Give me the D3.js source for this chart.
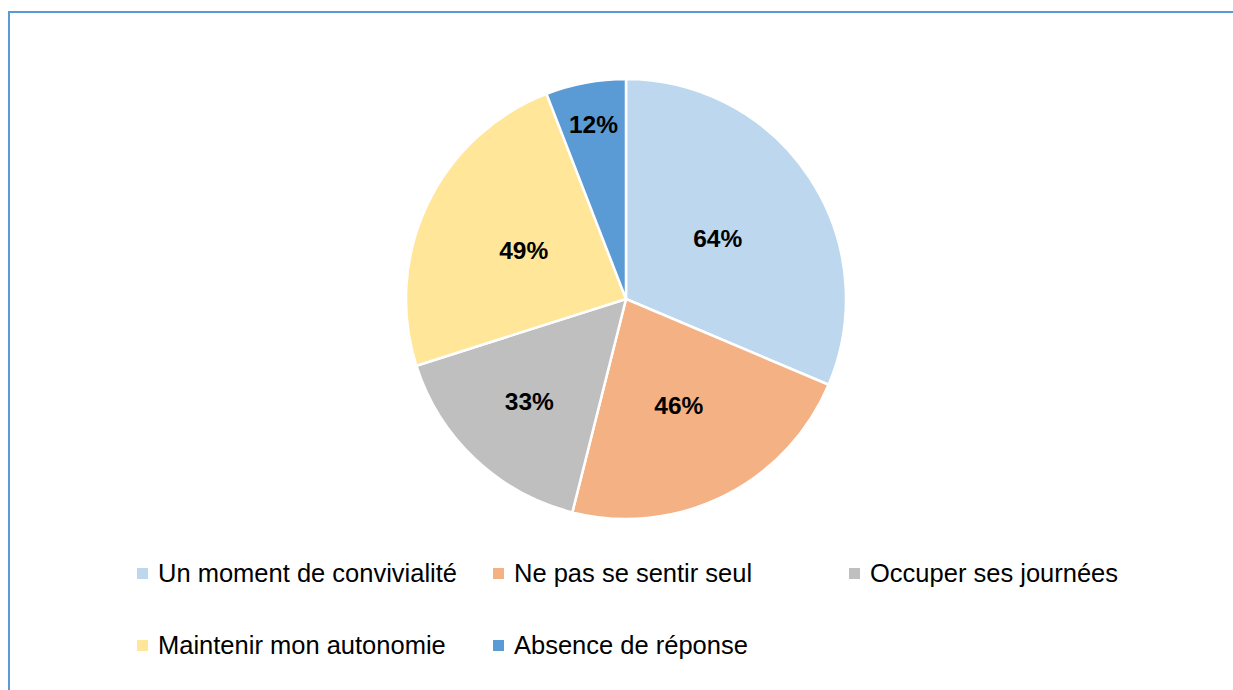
<!DOCTYPE html>
<head>
  <meta charset="utf-8">
  <script src="https://d3js.org/d3.v7.min.js"></script>
  <style>
    body{ margin: 0; background: #ffffff; }
    text{ font-family: "Liberation Sans", Arial, sans-serif; }
    text.pct{ font-size: 24.5px; font-weight: 700; fill: #000000; }
    text.legendLabel{ font-size: 25.5px; fill: #000000; }
  </style>
</head>
<body>
  <script>
    // data
    const categories = ["Un moment de convivialité", "Ne pas se sentir seul", "Occuper ses journées",
                        "Maintenir mon autonomie", "Absence de réponse"];
    const values = [64, 46, 33, 49, 12];
    const colours = ["#bdd7ee", "#f4b183", "#bfbfbf", "#ffe699", "#5b9bd5"];

    const width = 1233, height = 690;
    const cx = 626, cy = 299, radius = 220;

    const svg = d3.select("body").append("svg")
      .attr("width", width)
      .attr("height", height);

    // chart frame (right and bottom edges run off the page)
    svg.append("rect")
      .attr("x", 9).attr("y", 12)
      .attr("width", width + 20).attr("height", height + 20)
      .attr("fill", "none")
      .attr("stroke", "#5b9bd5")
      .attr("stroke-width", 2);

    const rows = categories.map((c, i) => ({name: c, value: values[i], colour: colours[i]}));

    const pie = d3.pie().sort(null).value(d => d.value);
    const arc = d3.arc().innerRadius(0).outerRadius(radius);
    const arcs = pie(rows);

    const g = svg.append("g").attr("transform", `translate(${cx},${cy})`);

    g.selectAll("path.slice")
      .data(arcs)
      .enter()
      .append("path")
      .attr("class", "slice")
      .attr("d", arc)
      .attr("fill", d => d.data.colour)
      .attr("stroke", "#ffffff")
      .attr("stroke-width", 2.5)
      .attr("stroke-linejoin", "round");

    //labels pushed outward in narrow slices so they fit
    const labelPos = d => {
      const span = d.endAngle - d.startAngle;
      const rho = radius * (0.5 + 0.8 * Math.max(0, 0.5 - span / Math.PI));
      const a = (d.startAngle + d.endAngle) / 2;
      return [rho * Math.sin(a), -rho * Math.cos(a)];
    };

    g.selectAll("text.pct")
      .data(arcs)
      .enter()
      .append("text")
      .attr("class", "pct")
      .attr("x", d => labelPos(d)[0])
      .attr("y", d => labelPos(d)[1])
      .attr("dy", "0.35em")
      .style("text-anchor", "middle")
      .text(d => d.data.value + "%");

    // legend: 3 columns, 2 rows
    const legendX = d3.scalePoint().domain([0, 1, 2]).range([137, 849]);
    const legendY = d3.scalePoint().domain([0, 1]).range([582, 654]);

    const items = svg.selectAll("g.legendItem")
      .data(rows)
      .enter()
      .append("g")
      .attr("class", "legendItem")
      .attr("transform", (d, i) => `translate(${legendX(i % 3)},${legendY(Math.floor(i / 3))})`);

    items.append("rect")
      .attr("x", 0).attr("y", -14)
      .attr("width", 11).attr("height", 11)
      .attr("fill", d => d.colour);

    items.append("text")
      .attr("class", "legendLabel")
      .attr("x", 21)
      .attr("y", 0)
      .text(d => d.name);
  </script>
</body>
